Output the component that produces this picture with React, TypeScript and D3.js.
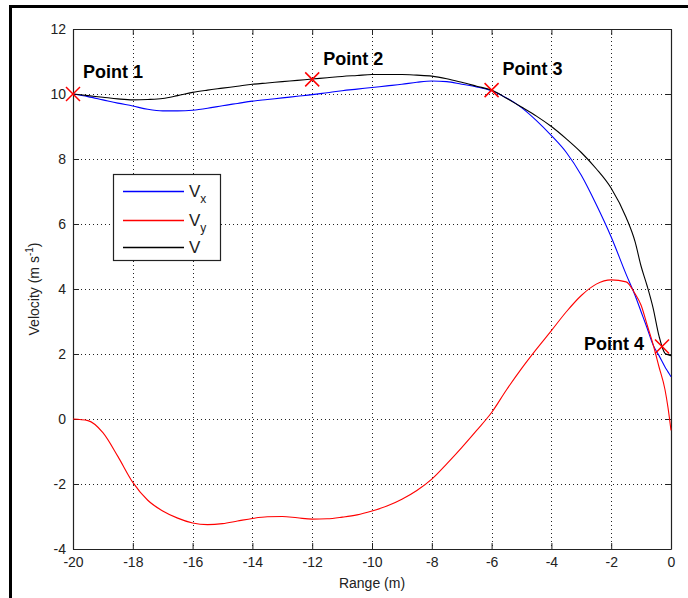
import React, { useEffect, useRef } from 'react';
import * as d3 from 'd3';

// range grid shared by the three series (m)
const rangeValues = [
  -20, -19.5, -19, -18.5, -18, -17.5, -17, -16.5, -16, -15.5, -15, -14.5, -14, -13.5, -13,
  -12.5, -12, -11.5, -11, -10.5, -10, -9.5, -9, -8.5, -8, -7.5, -7, -6.5, -6, -5.5, -5,
  -4.5, -4, -3.5, -3, -2.5, -2, -1.5, -1.2, -1, -0.8, -0.6, -0.4, -0.2, -0.1, 0,
];

const vxValues = [
  10.0, 9.92, 9.82, 9.72, 9.63, 9.53, 9.48, 9.48, 9.5, 9.56, 9.64, 9.71, 9.78, 9.83, 9.88,
  9.93, 9.98, 10.04, 10.1, 10.15, 10.2, 10.25, 10.3, 10.36, 10.4, 10.38, 10.3, 10.22, 10.1,
  9.88, 9.58, 9.18, 8.72, 8.2, 7.5, 6.6, 5.6, 4.45, 3.8, 3.3, 2.8, 2.28, 1.95, 1.6, 1.45, 1.3,
];

const vyValues = [
  0.0, -0.05, -0.42, -1.15, -1.95, -2.5, -2.83, -3.05, -3.2, -3.25, -3.22, -3.14, -3.06, -3.01,
  -3.0, -3.04, -3.08, -3.07, -3.02, -2.95, -2.83, -2.68, -2.47, -2.2, -1.85, -1.38, -0.88,
  -0.35, 0.2, 0.9, 1.55, 2.15, 2.72, 3.3, 3.8, 4.15, 4.28, 4.22, 3.85, 3.5, 2.9, 2.3, 1.6,
  0.9, 0.35, -0.35,
];

const vValues = [
  10.0, 9.95, 9.9, 9.85, 9.82, 9.83, 9.86, 9.95, 10.05, 10.12, 10.18, 10.24, 10.3, 10.34,
  10.38, 10.42, 10.46, 10.5, 10.54, 10.57, 10.6, 10.6, 10.6, 10.58, 10.55, 10.47, 10.36,
  10.24, 10.12, 9.87, 9.6, 9.32, 9.0, 8.62, 8.2, 7.7, 7.1, 6.2, 5.45, 4.7, 4.1, 3.42, 2.55,
  2.02, 1.98, 1.95,
];

const pointLabels = ['Point 1', 'Point 2', 'Point 3', 'Point 4'];
const pointRange = [-20, -12, -6, -0.3];
const pointVelocity = [10.0, 10.45, 10.12, 2.23];

const xTicks = [-20, -18, -16, -14, -12, -10, -8, -6, -4, -2, 0];
const yTicks = [-4, -2, 0, 2, 4, 6, 8, 10, 12];

const seriesNames = ['x', 'y', ''];
const seriesColors = ['#0000ff', '#ff0000', '#000000'];

const FONT = '"Liberation Sans", Arial, sans-serif';

const App = () => {
  const svgRef = useRef<SVGSVGElement>(null);

  useEffect(() => {
    if (!svgRef.current) return;
    const svg = d3.select(svgRef.current);
    svg.selectAll('*').remove();

    const W = 688;
    const H = 598;
    const left = 73, top = 29, right = 671, bottom = 549;

    svg.append('rect').attr('width', W).attr('height', H).attr('fill', '#fff');
    // figure frame
    svg.append('rect')
      .attr('x', 10.5).attr('y', 6.5).attr('width', 700).attr('height', 620)
      .attr('fill', 'none').attr('stroke', '#000').attr('stroke-width', 3);

    const x = d3.scaleLinear().domain([-20, 0]).range([left, right]);
    const y = d3.scaleLinear().domain([-4, 12]).range([bottom, top]);

    // dotted grid
    const grid = svg.append('g').attr('stroke', '#222').attr('stroke-width', 1)
      .attr('stroke-dasharray', '1,3');
    grid.selectAll('line.gx').data(xTicks.slice(1, -1)).enter().append('line')
      .attr('x1', (d) => Math.round(x(d)) + 0.5).attr('x2', (d) => Math.round(x(d)) + 0.5)
      .attr('y1', top).attr('y2', bottom);
    grid.selectAll('line.gy').data(yTicks.slice(1, -1)).enter().append('line')
      .attr('y1', (d) => Math.round(y(d)) + 0.5).attr('y2', (d) => Math.round(y(d)) + 0.5)
      .attr('x1', left).attr('x2', right);

    // axes, ticks inward on all sides
    const tickLen = 6;
    const fmt = (d: any) => String(d);
    const axBottom = svg.append('g').attr('transform', `translate(0,${bottom})`)
      .call(d3.axisBottom(x).tickValues(xTicks).tickSizeInner(-tickLen).tickSizeOuter(0).tickPadding(10).tickFormat(fmt));
    const axTop = svg.append('g').attr('transform', `translate(0,${top})`)
      .call(d3.axisTop(x).tickValues(xTicks).tickSizeInner(-tickLen).tickSizeOuter(0).tickFormat(() => ''));
    const axLeft = svg.append('g').attr('transform', `translate(${left},0)`)
      .call(d3.axisLeft(y).tickValues(yTicks).tickSizeInner(-tickLen).tickSizeOuter(0).tickPadding(7).tickFormat(fmt));
    const axRight = svg.append('g').attr('transform', `translate(${right},0)`)
      .call(d3.axisRight(y).tickValues(yTicks).tickSizeInner(-tickLen).tickSizeOuter(0).tickFormat(() => ''));

    [axBottom, axTop, axLeft, axRight].forEach((g) => {
      g.select('.domain').attr('stroke', '#222').attr('stroke-width', 1.2);
      g.selectAll('.tick line').attr('stroke', '#222');
      g.selectAll('text').attr('font-family', FONT).attr('font-size', 14).attr('fill', '#222');
    });
    axBottom.selectAll('text').attr('dy', '0.6em');

    // series
    const data = [vxValues, vyValues, vValues];
    const line = d3.line<number>()
      .x((_, i) => x(rangeValues[i]))
      .y((d) => y(d))
      .curve(d3.curveMonotoneX);

    svg.append('g').selectAll('path').data(data).enter().append('path')
      .attr('d', (d) => line(d))
      .attr('fill', 'none')
      .attr('stroke', (_, i) => seriesColors[i])
      .attr('stroke-width', 1.1);

    // markers
    const mk = svg.append('g').attr('stroke', '#ff0000').attr('stroke-width', 1.5);
    pointRange.forEach((r, i) => {
      const cx = x(r), cy = y(pointVelocity[i]);
      const s = 7;
      mk.append('line').attr('x1', cx - s).attr('y1', cy - s).attr('x2', cx + s).attr('y2', cy + s);
      mk.append('line').attr('x1', cx - s).attr('y1', cy + s).attr('x2', cx + s).attr('y2', cy - s);
    });

    const labelOffsets = [[10, -16], [11, -14], [11, -15], [-18, 3]];
    svg.append('g').selectAll('text').data(pointLabels).enter().append('text')
      .attr('x', (_, i) => x(pointRange[i]) + labelOffsets[i][0])
      .attr('y', (_, i) => y(pointVelocity[i]) + labelOffsets[i][1])
      .attr('text-anchor', (_, i) => (i === 3 ? 'end' : 'start'))
      .attr('font-family', FONT).attr('font-size', 18).attr('font-weight', 'bold')
      .attr('fill', '#000')
      .text((d) => d);

    // legend
    const lg = svg.append('g');
    lg.append('rect').attr('x', 113.5).attr('y', 174.5).attr('width', 107).attr('height', 86)
      .attr('fill', '#fff').attr('stroke', '#222').attr('stroke-width', 1.2);
    const rowsY = [191.5, 220.5, 247.5];
    seriesNames.forEach((name, i) => {
      lg.append('line').attr('x1', 123).attr('x2', 184)
        .attr('y1', rowsY[i]).attr('y2', rowsY[i])
        .attr('stroke', seriesColors[i]).attr('stroke-width', 1.5);
      const t = lg.append('text').attr('x', 189).attr('y', rowsY[i] + 5)
        .attr('font-family', FONT).attr('font-size', 17).attr('fill', '#222');
      t.append('tspan').text('V');
      if (name) t.append('tspan').attr('dy', 6).attr('font-size', 12).text(name);
    });

    // axis titles
    svg.append('text').attr('x', (left + right) / 2).attr('y', 588)
      .attr('text-anchor', 'middle').attr('font-family', FONT).attr('font-size', 14)
      .attr('fill', '#222').text('Range (m)');
    const yl = svg.append('text').attr('transform', `translate(39,289) rotate(-90)`)
      .attr('text-anchor', 'middle').attr('font-family', FONT).attr('font-size', 14)
      .attr('fill', '#222');
    yl.append('tspan').text('Velocity (m s');
    yl.append('tspan').attr('dy', -6).attr('font-size', 10).text('-1');
    yl.append('tspan').attr('dy', 6).text(')');
  }, []);

  return (
    <svg
      ref={svgRef}
      width={688}
      height={598}
      style={{ position: 'absolute', left: 0, top: 0 }}
    ></svg>
  );
};

export default App;
